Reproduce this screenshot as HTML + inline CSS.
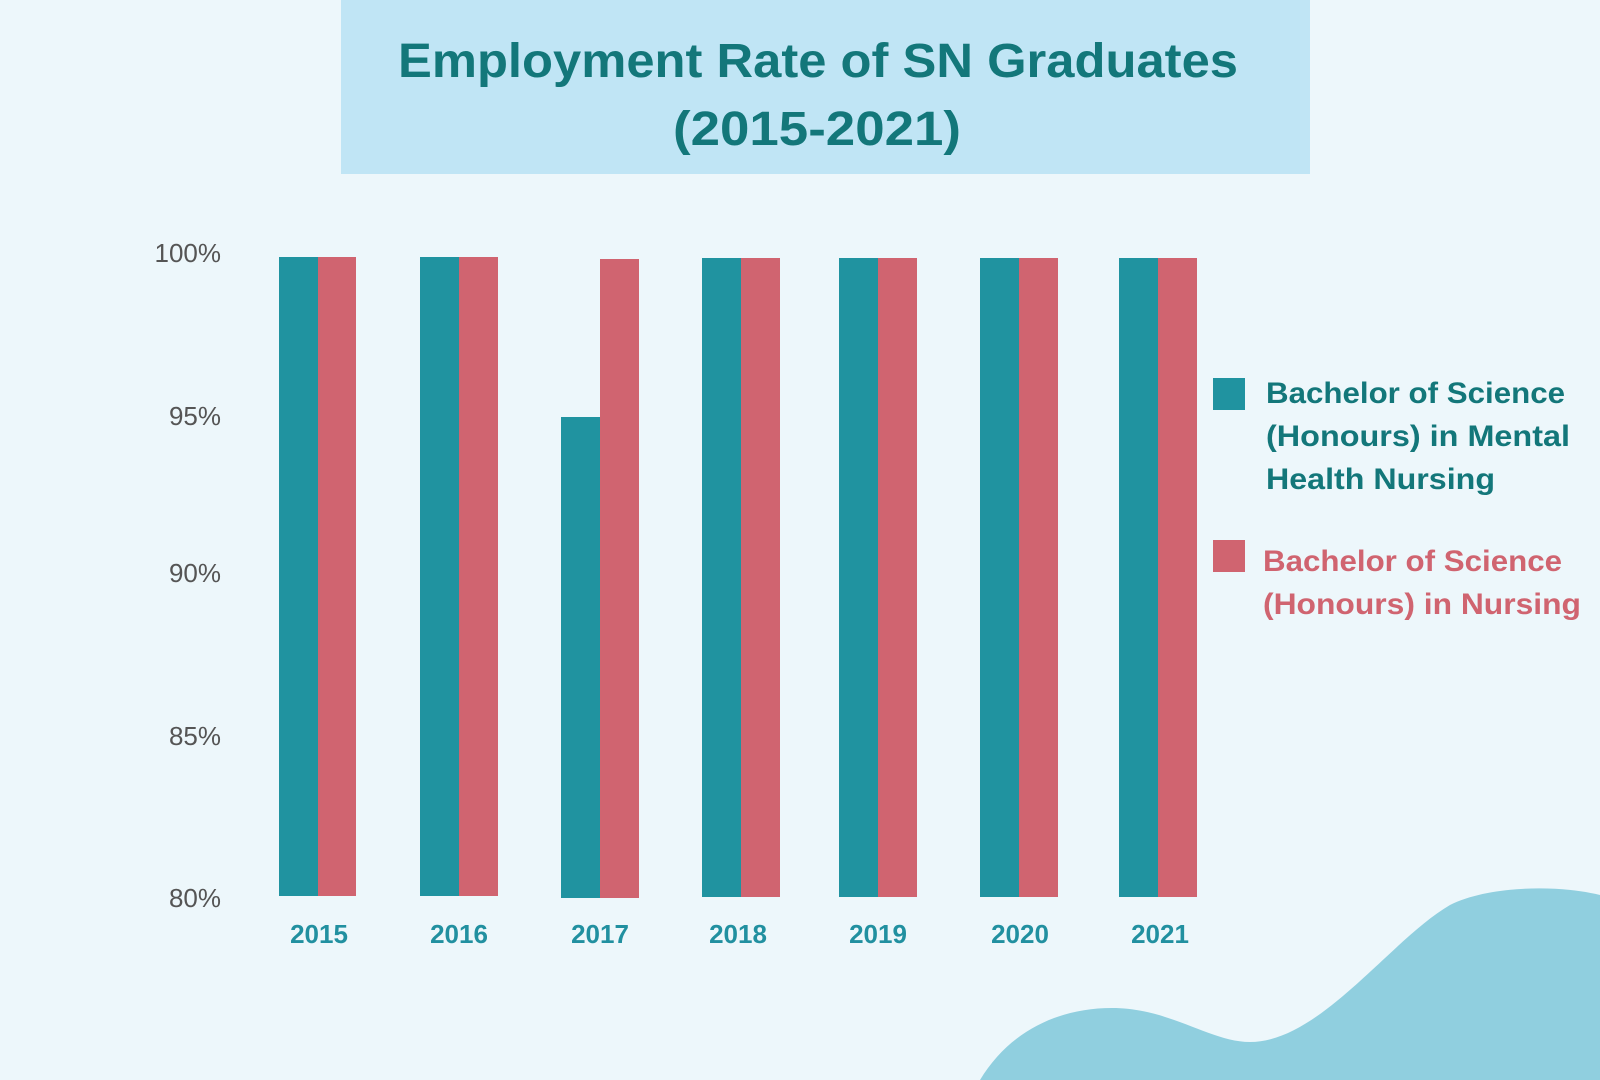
<!DOCTYPE html>
<html><head><meta charset="utf-8"><style>
html,body{margin:0;padding:0;background:#edf7fb;}
svg{display:block;}
</style></head><body>
<svg width="1600" height="1080" viewBox="0 0 1600 1080" xmlns="http://www.w3.org/2000/svg">
<rect width="1600" height="1080" fill="#edf7fb"/>
<path d="M980,1080 C1010,1030 1060,1008 1112,1008 C1170,1008 1210,1042 1250,1042 C1320,1042 1390,940 1450,905 C1490,885 1560,885 1600,895 L1600,1080 Z" fill="#90cfdf"/>
<rect x="341" y="0" width="969" height="174" fill="#c0e5f5"/>
<g font-family="Liberation Sans, sans-serif" font-weight="bold" fill="#13777a" font-size="48">
<text x="398" y="77" textLength="840" lengthAdjust="spacingAndGlyphs">Employment Rate of SN Graduates</text>
<text x="673" y="145" textLength="288" lengthAdjust="spacingAndGlyphs">(2015-2021)</text>
</g>
<g font-family="Liberation Sans, sans-serif" font-size="26" fill="#555" text-anchor="end">
<text x="221" y="262">100%</text>
<text x="221" y="425">95%</text>
<text x="221" y="582">90%</text>
<text x="221" y="745">85%</text>
<text x="221" y="907">80%</text>
</g>
<g>
<rect x="279" y="257" width="39" height="639" fill="#2093a0"/><rect x="318" y="257" width="38" height="639" fill="#d06470"/>
<rect x="420" y="257" width="39" height="639" fill="#2093a0"/><rect x="459" y="257" width="39" height="639" fill="#d06470"/>
<rect x="561" y="417" width="39" height="481" fill="#2093a0"/><rect x="600" y="259" width="39" height="639" fill="#d06470"/>
<rect x="702" y="258" width="39" height="639" fill="#2093a0"/><rect x="741" y="258" width="39" height="639" fill="#d06470"/>
<rect x="839" y="258" width="39" height="639" fill="#2093a0"/><rect x="878" y="258" width="39" height="639" fill="#d06470"/>
<rect x="980" y="258" width="39" height="639" fill="#2093a0"/><rect x="1019" y="258" width="39" height="639" fill="#d06470"/>
<rect x="1119" y="258" width="39" height="639" fill="#2093a0"/><rect x="1158" y="258" width="39" height="639" fill="#d06470"/>
</g>
<g font-family="Liberation Sans, sans-serif" font-weight="bold" font-size="26" fill="#2190a0" text-anchor="middle">
<text x="319" y="943">2015</text>
<text x="459" y="943">2016</text>
<text x="600" y="943">2017</text>
<text x="738" y="943">2018</text>
<text x="878" y="943">2019</text>
<text x="1020" y="943">2020</text>
<text x="1160" y="943">2021</text>
</g>
<rect x="1213" y="378" width="32" height="32" fill="#2093a0"/>
<rect x="1213" y="540" width="32" height="32" fill="#d06470"/>
<g font-family="Liberation Sans, sans-serif" font-weight="bold" font-size="30">
<g fill="#13777a">
<text x="1266" y="403" textLength="299" lengthAdjust="spacingAndGlyphs">Bachelor of Science</text>
<text x="1266" y="446" textLength="304" lengthAdjust="spacingAndGlyphs">(Honours) in Mental</text>
<text x="1266" y="489" textLength="229" lengthAdjust="spacingAndGlyphs">Health Nursing</text>
</g>
<g fill="#d06470">
<text x="1263" y="571" textLength="299" lengthAdjust="spacingAndGlyphs">Bachelor of Science</text>
<text x="1263" y="614" textLength="318" lengthAdjust="spacingAndGlyphs">(Honours) in Nursing</text>
</g>
</g>
</svg>
</body></html>
